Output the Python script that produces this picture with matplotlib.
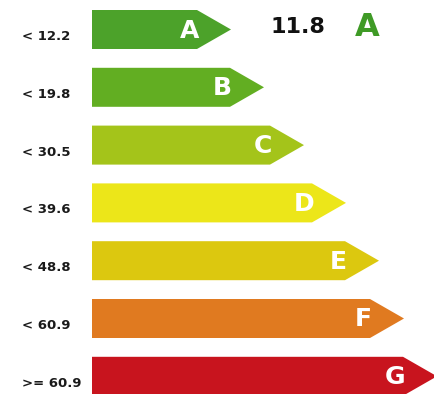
import matplotlib.pyplot as plt
from matplotlib.patches import Polygon

# energy classes, upper bounds and arrow lengths
classes = ['A', 'B', 'C', 'D', 'E', 'F', 'G']
limits = ['< 12.2', '< 19.8', '< 30.5', '< 39.6', '< 48.8', '< 60.9', '>= 60.9']
bar_ends = [197, 230, 270, 312, 345, 370, 403]
colors = ['#4ca22a', '#62ae22', '#a4c41a', '#ece619', '#dcc80f', '#e07a20', '#c8141e']

value = 11.8
rating = 'A'

fig = plt.figure(figsize=(4.35, 3.94), dpi=100)
ax = fig.add_axes([0, 0, 1, 1])
ax.set_xlim(0, 435)
ax.set_ylim(394, 0)
ax.axis('off')

left = 92
height = 39
tip = 34
for i, (cls, lim, end, col) in enumerate(zip(classes, limits, bar_ends, colors)):
    top = 10 + i * 57.8
    mid = top + height / 2
    arrow = Polygon([(left, top), (end, top), (end + tip, mid),
                     (end, top + height), (left, top + height)],
                    closed=True, facecolor=col, edgecolor='none')
    ax.add_patch(arrow)
    ax.text(end + 2, mid + 1, cls, ha='right', va='center', color='white',
            fontsize=18, fontweight='bold', family='DejaVu Sans')
    ax.text(22, mid + 7, lim, ha='left', va='center', color='#1a1a1a',
            fontsize=9.5, fontweight='bold', family='DejaVu Sans')

# the measured value and its class
ax.text(271, 27, f'{value}', ha='left', va='center', color='#111111',
        fontsize=16, fontweight='bold', family='DejaVu Sans')
ax.text(367, 27, rating, ha='center', va='center', color='#3f9a26',
        fontsize=23, fontweight='bold', family='DejaVu Sans')

fig.savefig('out.png', dpi=100)
